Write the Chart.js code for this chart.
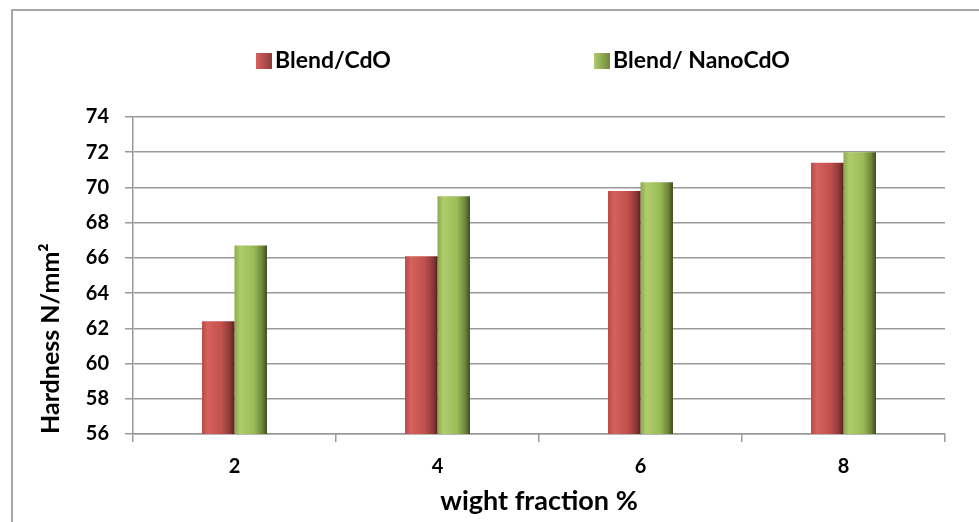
<!DOCTYPE html>
<html lang="en">
<head>
  <meta charset="UTF-8">
  <title>Hardness vs weight fraction</title>
  <script src="https://cdn.jsdelivr.net/npm/chart.js"></script>
  <style>
    body { margin: 0; background: #fff; }
    #caixa { position: relative; width: 979px; height: 522px; }
  </style>
</head>
<body>
  <div id="caixa">
    <canvas id="grafico"></canvas>
  </div>

<script>
  // dados
  const categorias = ['2', '4', '6', '8'];
  const blendCdO = [62.4, 66.1, 69.8, 71.4];
  const blendNanoCdO = [66.7, 69.5, 70.3, 72.0];
  const nomesSeries = ['Blend/CdO', 'Blend/ NanoCdO'];
  const yMin = 56, yMax = 74, yStep = 2;

  const FONTE = "Lato, 'Open Sans', sans-serif";
  const FRAC_BARRA = 0.32;

  // cores: claro, medio, escuro
  const vermelho = ['#b64a47', '#d6625f', '#c0504d', '#8f3b39', '#5a2220'];
  const verde = ['#8aa84f', '#afcd6a', '#9bbb59', '#6e873b', '#3d4d1d'];

  function preenchimento(ctx, cores) {
    const chart = ctx.chart;
    const x = chart.scales.x;
    if (ctx.type !== 'data' || !x || !x.width) return cores[2];
    const centro = x.getPixelForValue(ctx.dataIndex);
    const larg = (x.width / categorias.length) * FRAC_BARRA / 2;
    const esq = ctx.datasetIndex === 0 ? centro - larg : centro;
    const g = chart.ctx.createLinearGradient(esq, 0, esq + larg, 0);
    g.addColorStop(0, cores[0]);
    g.addColorStop(0.18, cores[1]);
    g.addColorStop(0.6, cores[2]);
    g.addColorStop(0.85, cores[3]);
    g.addColorStop(1, cores[4]);
    return g;
  }

  // moldura e legenda desenhadas a mao
  const moldura = {
    id: 'moldura',
    beforeDraw(chart) {
      const c = chart.ctx;
      c.save();
      c.fillStyle = '#fff';
      c.fillRect(0, 0, chart.width, chart.height);
      c.strokeStyle = '#a6a6a6';
      c.lineWidth = 2;
      c.beginPath();
      c.moveTo(12, chart.height);
      c.lineTo(12, 10);
      c.lineTo(chart.width, 10);
      c.stroke();
      c.restore();
    },
    afterDraw(chart) {
      const c = chart.ctx;
      const posX = [256, 594];
      const cores = [vermelho, verde];
      c.save();
      c.font = 'bold 23px ' + FONTE;
      c.textBaseline = 'middle';
      chart.data.datasets.forEach((ds, i) => {
        const g = c.createLinearGradient(posX[i], 0, posX[i] + 16, 0);
        g.addColorStop(0, cores[i][1]);
        g.addColorStop(1, cores[i][3]);
        c.fillStyle = g;
        c.fillRect(posX[i], 53, 16, 16);
        c.fillStyle = '#000';
        c.fillText(ds.label, posX[i] + 19, 61);
      });
      c.restore();
    }
  };

  const dados = {
    labels: categorias,
    datasets: [{
      label: nomesSeries[0],
      data: blendCdO,
      backgroundColor: (ctx) => preenchimento(ctx, vermelho)
    }, {
      label: nomesSeries[1],
      data: blendNanoCdO,
      backgroundColor: (ctx) => preenchimento(ctx, verde)
    }]
  };

  const config = {
    type: 'bar',
    data: dados,
    options: {
      responsive: false,
      animation: false,
      categoryPercentage: FRAC_BARRA,
      barPercentage: 1,
      layout: { padding: { left: 14, right: 34, top: 117, bottom: 0 } },
      plugins: {
        legend: { display: false },
        tooltip: { enabled: false }
      },
      scales: {
        x: {
          afterFit: (s) => { s.height = 88; },
          grid: { offset: true, drawOnChartArea: false, drawTicks: true, tickLength: 8, color: '#999', lineWidth: 1.5 },
          border: { display: true, color: '#999', width: 1.5 },
          ticks: { color: '#000', padding: 13, font: { family: FONTE, size: 20, weight: 'bold' } },
          title: {
            display: true,
            text: 'wight fraction %',
            color: '#000',
            padding: { top: 2, bottom: 5 },
            font: { family: FONTE, size: 27, weight: 'bold' }
          }
        },
        y: {
          min: yMin,
          max: yMax,
          afterFit: (s) => { s.width = 119; },
          grid: { color: '#999', lineWidth: 1.5, tickLength: 8 },
          border: { display: true, color: '#999', width: 1.5 },
          ticks: { stepSize: yStep, color: '#000', padding: 16, font: { family: FONTE, size: 20, weight: 'bold' } },
          title: {
            display: true,
            text: 'Hardness N/mm²',
            color: '#000',
            align: 'start',
            padding: { top: 22, bottom: 0 },
            font: { family: FONTE, size: 25, weight: 'bold' }
          }
        }
      }
    },
    plugins: [moldura]
  };

  const canvas = document.getElementById('grafico');
  canvas.width = 979;
  canvas.height = 522;
  new Chart(canvas, config);
</script>
</body>
</html>
